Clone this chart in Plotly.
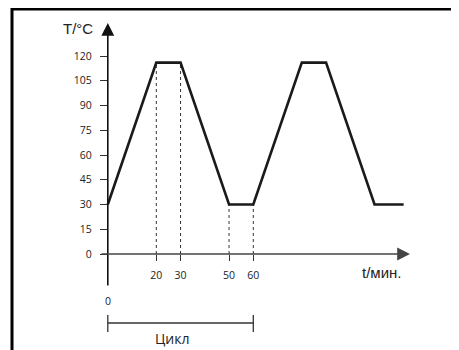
import plotly.graph_objects as go

# temperature cycle profile
time_min = [0, 20, 30, 50, 60, 80, 90, 110, 122]
temp_c = [30, 116, 116, 30, 30, 116, 116, 30, 30]

y_ticks = [0, 15, 30, 45, 60, 75, 90, 105, 120]
x_ticks = [20, 30, 50, 60]
guide_heights = [116, 116, 30, 30]

W, H = 459, 350
OFF = 8                 # page body margin
X0, XS = 107.8, 2.425   # px of t=0, px per minute (screen coords)
Y0, YS = 254.0, 1.65    # px of T=0, px per degree


def tx(px):
    return (px - X0) / XS


def ty(py):
    return (Y0 - py) / YS


def px_x(px):
    return (px - OFF) / W


def px_y(py):
    return 1 - (py - OFF) / H


num_font = dict(family="Open Sans, Segoe UI, sans-serif", size=10.5, color="#222")
lbl_font = dict(family="Liberation Sans, Arial, sans-serif", size=15, color="#222")

fig = go.Figure()

# dotted guides from the time axis up to the curve
for t, h in zip(x_ticks, guide_heights):
    fig.add_trace(go.Scatter(x=[t, t], y=[0, h], mode="lines",
                             line=dict(color="#333", width=1, dash="dot"),
                             hoverinfo="skip", showlegend=False))

fig.add_trace(go.Scatter(x=time_min, y=temp_c, mode="lines",
                         line=dict(color="#1a1a1a", width=2.6),
                         showlegend=False))

annotations = [
    # axes with arrowheads
    dict(x=0, y=ty(23), ax=0, ay=ty(287), xref="x", yref="y", axref="x", ayref="y",
         showarrow=True, arrowhead=2, arrowsize=1.6, arrowwidth=1.6, arrowcolor="#111", text=""),
    dict(x=tx(410), y=0, ax=tx(100), ay=0, xref="x", yref="y", axref="x", ayref="y",
         showarrow=True, arrowhead=2, arrowsize=1.6, arrowwidth=1.6, arrowcolor="#444", text=""),
    dict(x=tx(78), y=ty(28), text="T/°C", showarrow=False, font=lbl_font),
    dict(x=tx(381), y=ty(272), text="t/мин.", showarrow=False, font=lbl_font),
    dict(x=0, y=ty(301), text="0", showarrow=False, font=num_font),
    dict(x=tx(172), y=ty(338), text="Цикл",
         showarrow=False, font=dict(family="Open Sans, sans-serif", size=14, color="#222")),
]

shapes = [
    # cycle bracket
    dict(type="line", x0=0, x1=60, y0=ty(323), y1=ty(323), xref="x", yref="y",
         line=dict(color="#333", width=1.3)),
    dict(type="line", x0=0, x1=0, y0=ty(315), y1=ty(332), xref="x", yref="y",
         line=dict(color="#333", width=1.3)),
    dict(type="line", x0=60, x1=60, y0=ty(315), y1=ty(332), xref="x", yref="y",
         line=dict(color="#333", width=1.3)),
    # frame (top and left edges)
    dict(type="line", x0=px_x(11), x1=1, y0=px_y(9), y1=px_y(9), xref="paper", yref="paper",
         line=dict(color="black", width=3)),
    dict(type="line", x0=px_x(12), x1=px_x(12), y0=0, y1=px_y(8), xref="paper", yref="paper",
         line=dict(color="black", width=3)),
]

fig.update_layout(
    width=W, height=H,
    margin=dict(l=0, r=0, t=0, b=0),
    paper_bgcolor="white", plot_bgcolor="white",
    xaxis=dict(range=[tx(OFF), tx(OFF + W)], anchor="free", position=px_y(Y0),
               tickvals=x_ticks, ticks="outside", ticklen=6, tickwidth=1.4, tickcolor="#333",
               showline=False, showgrid=False, zeroline=False, tickfont=num_font,
               ticklabelstandoff=5, fixedrange=True),
    yaxis=dict(range=[ty(OFF + H), ty(OFF)], anchor="free", position=px_x(X0),
               tickvals=y_ticks, ticks="outside", ticklen=8, tickwidth=1.4, tickcolor="#333",
               showline=False, showgrid=False, zeroline=False, tickfont=num_font,
               ticklabelstandoff=6, fixedrange=True),
    annotations=annotations,
    shapes=shapes,
)

fig.write_html("out.html")
